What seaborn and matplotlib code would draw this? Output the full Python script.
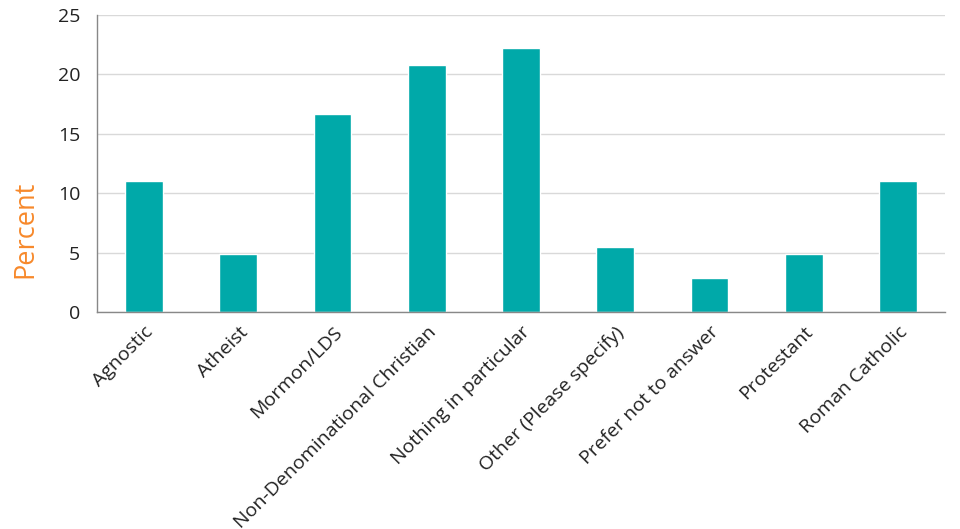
import seaborn as sns
import matplotlib.pyplot as plt
import pandas as pd

categories = ["Agnostic", "Atheist", "Mormon/LDS", "Non-Denominational Christian",
              "Nothing in particular", "Other (Please specify)", "Prefer not to answer",
              "Protestant", "Roman Catholic"]
percent = [11.0, 4.9, 16.7, 20.8, 22.2, 5.5, 2.9, 4.9, 11.0]
y_ticks = [0, 5, 10, 15, 20, 25]

df = pd.DataFrame({"religion": categories, "percent": percent})

sns.set_style("white")
plt.rcParams["font.family"] = ["Open Sans", "DejaVu Sans"]

fig = plt.figure(figsize=(9.6, 5.29), dpi=100)
ax = fig.add_axes([97 / 960, 1 - 312 / 529, 848 / 960, 297 / 529])

sns.barplot(data=df, x="religion", y="percent", color="#00A9A9", width=0.4,
            saturation=1, ax=ax)

ax.set_ylim(0, 25)
ax.set_yticks(y_ticks)
ax.set_xlim(-0.5, len(categories) - 0.5)
ax.yaxis.grid(True, color="#d9d9d9", linewidth=1)
ax.set_axisbelow(True)

# ticks between categories on x
ax.set_xticks([i - 0.5 for i in range(len(categories) + 1)], minor=True)
ax.tick_params(axis="x", which="minor", length=6, color="#888888", width=1)
ax.tick_params(axis="x", which="major", length=0, pad=8, labelsize=14, labelcolor="#222222")
ax.tick_params(axis="y", length=6, color="#888888", width=1, labelsize=14,
               labelcolor="#222222", pad=6)
ax.set_xticks(range(len(categories)))
ax.set_xticklabels(categories, rotation=45, ha="right", rotation_mode="anchor")

for s in ["top", "right"]:
    ax.spines[s].set_visible(False)
for s in ["left", "bottom"]:
    ax.spines[s].set_color("#888888")
    ax.spines[s].set_linewidth(1)

ax.set_xlabel("")
ax.set_ylabel("Percent", color="#F7892B", fontsize=19.5)
ax.yaxis.set_label_coords(-0.068, 0.28)

fig.savefig("out.png", dpi=100)
